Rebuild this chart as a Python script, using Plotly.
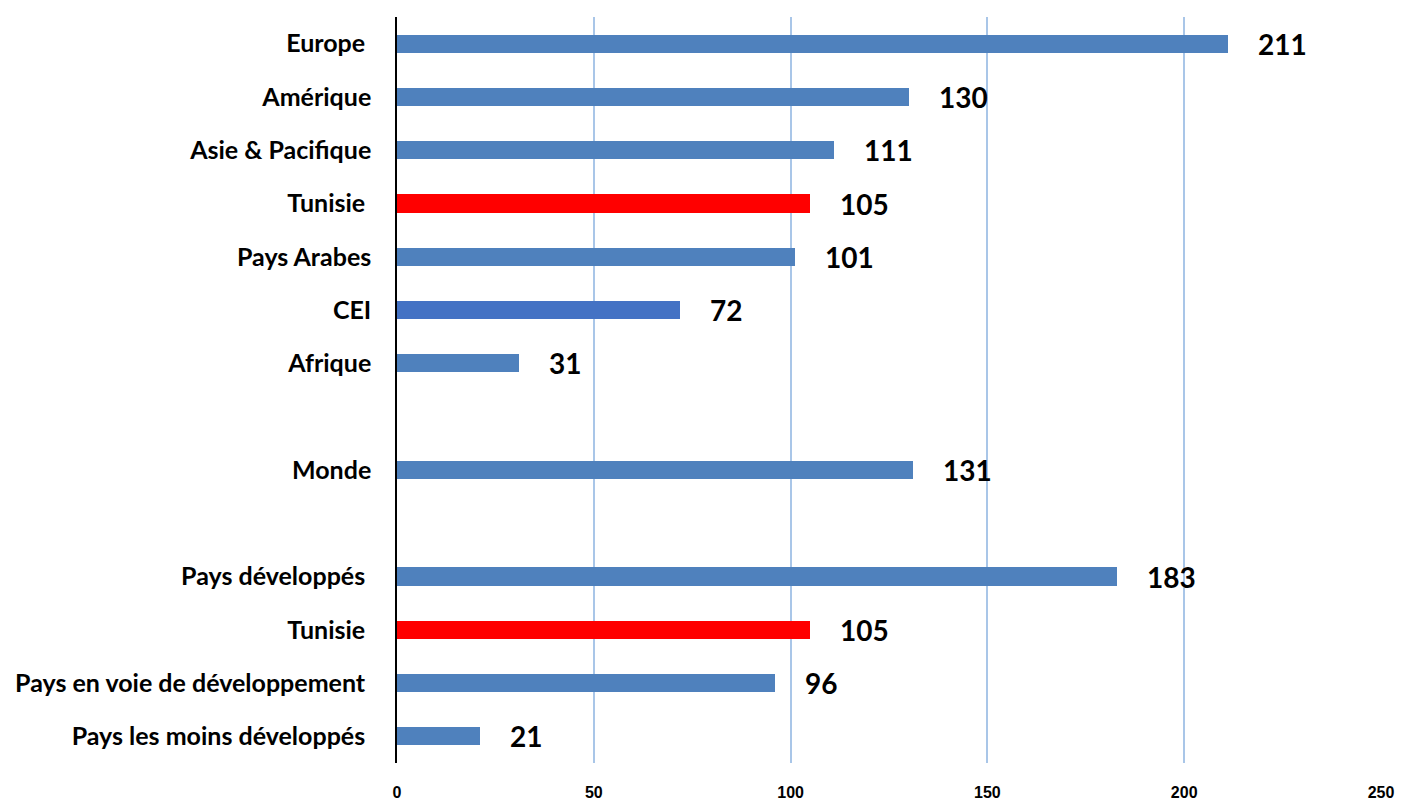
import plotly.graph_objects as go

categories = ["Europe", "Amérique", "Asie & Pacifique", "Tunisie", "Pays Arabes", "CEI",
              "Afrique", "Monde", "Pays développés", "Tunisie",
              "Pays en voie de développement", "Pays les moins développés"]
values = [211, 130, 111, 105, 101, 72, 31, 131, 183, 105, 96, 21]
slots = [0, 1, 2, 3, 4, 5, 6, 8, 10, 11, 12, 13]
trailing_space = [True, False, False, True, False, False, False, False, True, True, True, True]
bar_colors = ["#4F81BD", "#4F81BD", "#4F81BD", "#FF0000", "#4F81BD", "#4472C4",
              "#4F81BD", "#4F81BD", "#4F81BD", "#FF0000", "#4F81BD", "#4F81BD"]
x_ticks = [0, 50, 100, 150, 200, 250]

tick_text = [c + ("\u00a0" if t else "") for c, t in zip(categories, trailing_space)]

fig = go.Figure()
fig.add_trace(go.Bar(
    x=values, y=slots, orientation="h", width=0.34,
    marker=dict(color=bar_colors, line=dict(width=0)),
    showlegend=False, hoverinfo="skip",
))

for v, s in zip(values, slots):
    fig.add_annotation(x=v, y=s, text=str(v), showarrow=False, xanchor="left",
                       yanchor="middle", xshift=28, yshift=0,
                       font=dict(family="Lato", size=28, color="#000000", weight="bold"))

fig.update_layout(
    width=1402, height=802,
    margin=dict(l=397, r=21, t=17, b=39, autoexpand=False),
    paper_bgcolor="white", plot_bgcolor="white",
    bargap=0,
)
fig.update_xaxes(
    range=[0, 250], tickvals=x_ticks, ticktext=[str(t) for t in x_ticks],
    showgrid=True, gridcolor="#A9C6E8", gridwidth=1.5,
    zeroline=False, showline=False, ticks="", automargin=False,
    ticklabelstandoff=18,
    tickfont=dict(family="Liberation Sans", size=16, color="#000000", weight="bold"),
)
fig.update_yaxes(
    range=[13.5, -0.5], tickvals=slots, ticktext=tick_text,
    showgrid=False, zeroline=False, showline=True, linecolor="#000000", linewidth=1.5,
    ticks="", ticklabelstandoff=19, automargin=False,
    tickfont=dict(family="Lato", size=25, color="#000000", weight="bold"),
)

fig.write_html("out.html", config={"displayModeBar": False},
               post_script="document.body.style.margin='0';document.body.style.overflow='hidden';")
